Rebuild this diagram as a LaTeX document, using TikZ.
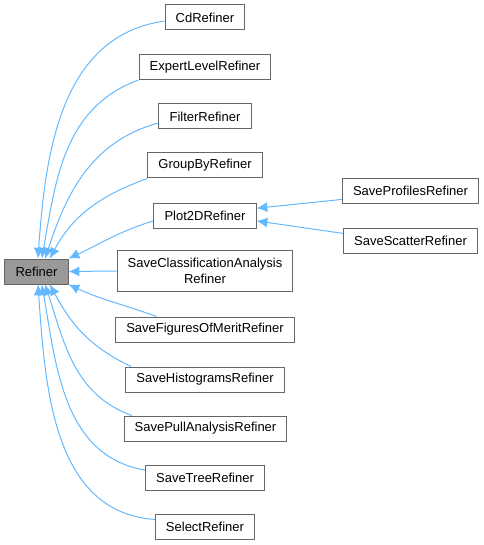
\documentclass[tikz,border=0pt]{standalone}
\usepackage{xcolor}
\usepackage{fontspec}
\setmainfont{Liberation Sans}
\usepackage{tikz}
\usetikzlibrary{arrows.meta}

\definecolor{edgeblue}{HTML}{63B8FF}
\definecolor{boxline}{HTML}{666666}
\definecolor{basefill}{HTML}{999999}

\tikzset{
  cls/.style={draw=boxline, line width=0.75pt, fill=white, inner xsep=8pt, inner ysep=3pt,
    minimum height=18.75pt, align=center, font=\fontsize{9.75}{12}\selectfont},
  base/.style={cls, fill=basefill},
  inh/.style={draw=edgeblue, line width=0.75pt, -{Latex[length=8pt,width=7.5pt]}}
}

\begin{document}
\begin{tikzpicture}[x=0.75pt,y=0.75pt,yscale=-1,xscale=1]
        \useasboundingbox (0,0) rectangle (484,545);

        \node [base] (refiner) at (36.5,271.5) {Refiner};

        \node [cls] (cd) at (205,17.5) {CdRefiner};
        \node [cls] (expert) at (205,67) {ExpertLevelRefiner};
        \node [cls] (filter) at (205,116.5) {FilterRefiner};
        \node [cls] (groupby) at (205,165.5) {GroupByRefiner};
        \node [cls] (plot) at (205,215.5) {Plot2DRefiner};
        \node [cls, inner ysep=6pt] (sca) at (205,271) {SaveClassificationAnalysis\\Refiner};
        \node [cls] (sfm) at (205,329.5) {SaveFiguresOfMeritRefiner};
        \node [cls] (hist) at (205,379.5) {SaveHistogramsRefiner};
        \node [cls] (pull) at (205.5,428.5) {SavePullAnalysisRefiner};
        \node [cls] (tree) at (205,477.5) {SaveTreeRefiner};
        \node [cls] (select) at (205,526.5) {SelectRefiner};

        \node [cls] (prof) at (410.5,191) {SaveProfilesRefiner};
        \node [cls] (scat) at (410.5,240.5) {SaveScatterRefiner};

        % upper children (angles flipped by yscale=-1)
        \draw [inh] (cd.185) to[out=172,in=-86] ([xshift=1.1pt]refiner.north);
        \draw [inh] (expert.south west) to[out=160,in=-80] ([xshift=4pt]refiner.north);
        \draw [inh] (filter.188) to[out=165,in=-72] ([xshift=6.5pt]refiner.north);
        \draw [inh] (groupby.south west) to[out=160,in=-62] ([xshift=10pt]refiner.north);
        \draw [inh] (plot.186) to[out=163,in=-25] (refiner.north east);
        \draw [inh] (sca.west) -- (refiner.east);

        % lower children
        \draw [inh] (sfm.165) to[out=-160,in=25] (refiner.south east);
        \draw [inh] (hist.170) to[out=-155,in=62] ([xshift=10pt]refiner.south);
        \draw [inh] (pull.170) to[out=-160,in=72] ([xshift=6.5pt]refiner.south);
        \draw [inh] (tree.173) to[out=-170,in=80] ([xshift=4pt]refiner.south);
        \draw [inh] (select.172) to[out=-176,in=86] ([xshift=1.1pt]refiner.south);

        % second level
        \draw [inh] (prof.187) -- (plot.8);
        \draw [inh] (scat.174) -- (plot.-6);
\end{tikzpicture}
\end{document}
